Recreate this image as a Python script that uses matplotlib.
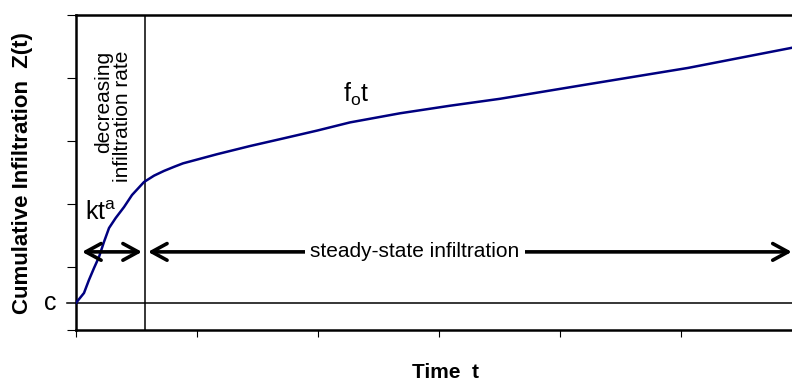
import numpy as np
import matplotlib
matplotlib.use("Agg")
import matplotlib.pyplot as plt

plt.rcParams['font.family'] = ['Liberation Sans', 'DejaVu Sans']
plt.rcParams['mathtext.fontset'] = 'custom'
plt.rcParams['mathtext.rm'] = 'Liberation Sans'

# ------------------------------------
# Curve (time, Z)
# ------------------------------------
t = [0.0, 0.066, 0.107, 0.149, 0.190, 0.231, 0.273, 0.328, 0.397, 0.463,
     0.562, 0.645, 0.727, 0.810, 0.884, 1.165, 1.438, 1.711, 1.992, 2.264,
     2.678, 3.091, 3.504, 4.198, 5.058, 5.917]
z = [0.43, 0.587, 0.794, 0.984, 1.159, 1.397, 1.619, 1.778, 1.952, 2.143,
     2.349, 2.450, 2.525, 2.590, 2.645, 2.790, 2.920, 3.040, 3.165, 3.295,
     3.44, 3.56, 3.67, 3.89, 4.16, 4.48]

c_level = 0.43
t_break = 0.57
x_ticks = [0, 1, 2, 3, 4, 5]
y_ticks = [0, 1, 2, 3, 4, 5]

fig = plt.figure(figsize=(7.92, 3.81), dpi=100)
ax = fig.add_axes([76 / 792, 51 / 381, 1 - 76 / 792, 315 / 381])

ax.plot(t, z, color='#000080', lw=1.8, zorder=3, solid_joinstyle='round')

# c line and break line
ax.plot([-0.075, 5.917], [c_level, c_level], color='black', lw=1.1, clip_on=False)
ax.axvline(t_break, color='black', lw=1.1)

ax.set_xlim(0, 5.917)
ax.set_ylim(0, 5)
ax.set_xticks(x_ticks)
ax.set_yticks(y_ticks)
ax.set_xticklabels([])
ax.set_yticklabels([])
ax.tick_params(axis='x', direction='out', length=5, width=0.8)
ax.tick_params(axis='y', direction='out', length=6.5, width=0.8)
ax.spines['right'].set_visible(False)
for s in ['left', 'top', 'bottom']:
    ax.spines[s].set_linewidth(1.8)

# arrows
arrow_y = 1.24
arrow_style = '<->,head_length=0.55,head_width=0.3'
ax.annotate('', xy=(0.05, arrow_y), xytext=(0.545, arrow_y),
            arrowprops=dict(arrowstyle=arrow_style, lw=2.6, color='black',
                            mutation_scale=20, shrinkA=0, shrinkB=0))
ax.annotate('', xy=(0.595, arrow_y), xytext=(5.915, arrow_y),
            arrowprops=dict(arrowstyle=arrow_style, lw=2.6, color='black',
                            mutation_scale=20, shrinkA=0, shrinkB=0))
ax.text(2.80, arrow_y, 'steady-state infiltration', fontsize=15,
        ha='center', va='center', zorder=4,
        bbox=dict(facecolor='white', edgecolor='none', pad=4))

# labels in the plot
ax.text(0.306, 3.39, 'decreasing\ninfiltration rate', rotation=90,
        fontsize=15, ha='center', va='center', multialignment='right',
        linespacing=1.05)
ax.text(0.074, 1.75, r'$\mathrm{kt}^{\mathrm{a}}$', fontsize=18,
        ha='left', va='baseline')
ax.text(2.21, 3.62, r'$\mathrm{f}_{\mathrm{o}}\mathrm{t}$', fontsize=18,
        ha='left', va='baseline')
ax.text(-0.215, c_level, 'c', fontsize=18, ha='center', va='center',
        clip_on=False)

fig.text(23 / 792, 1 - 173 / 381, 'Cumulative Infiltration  Z(t)',
         rotation=90, fontsize=16, fontweight='bold', ha='center', va='center')
fig.text(445 / 792, 1 - 372 / 381, 'Time  t', fontsize=15,
         fontweight='bold', ha='center', va='center')

fig.savefig('out.png', dpi=100)
